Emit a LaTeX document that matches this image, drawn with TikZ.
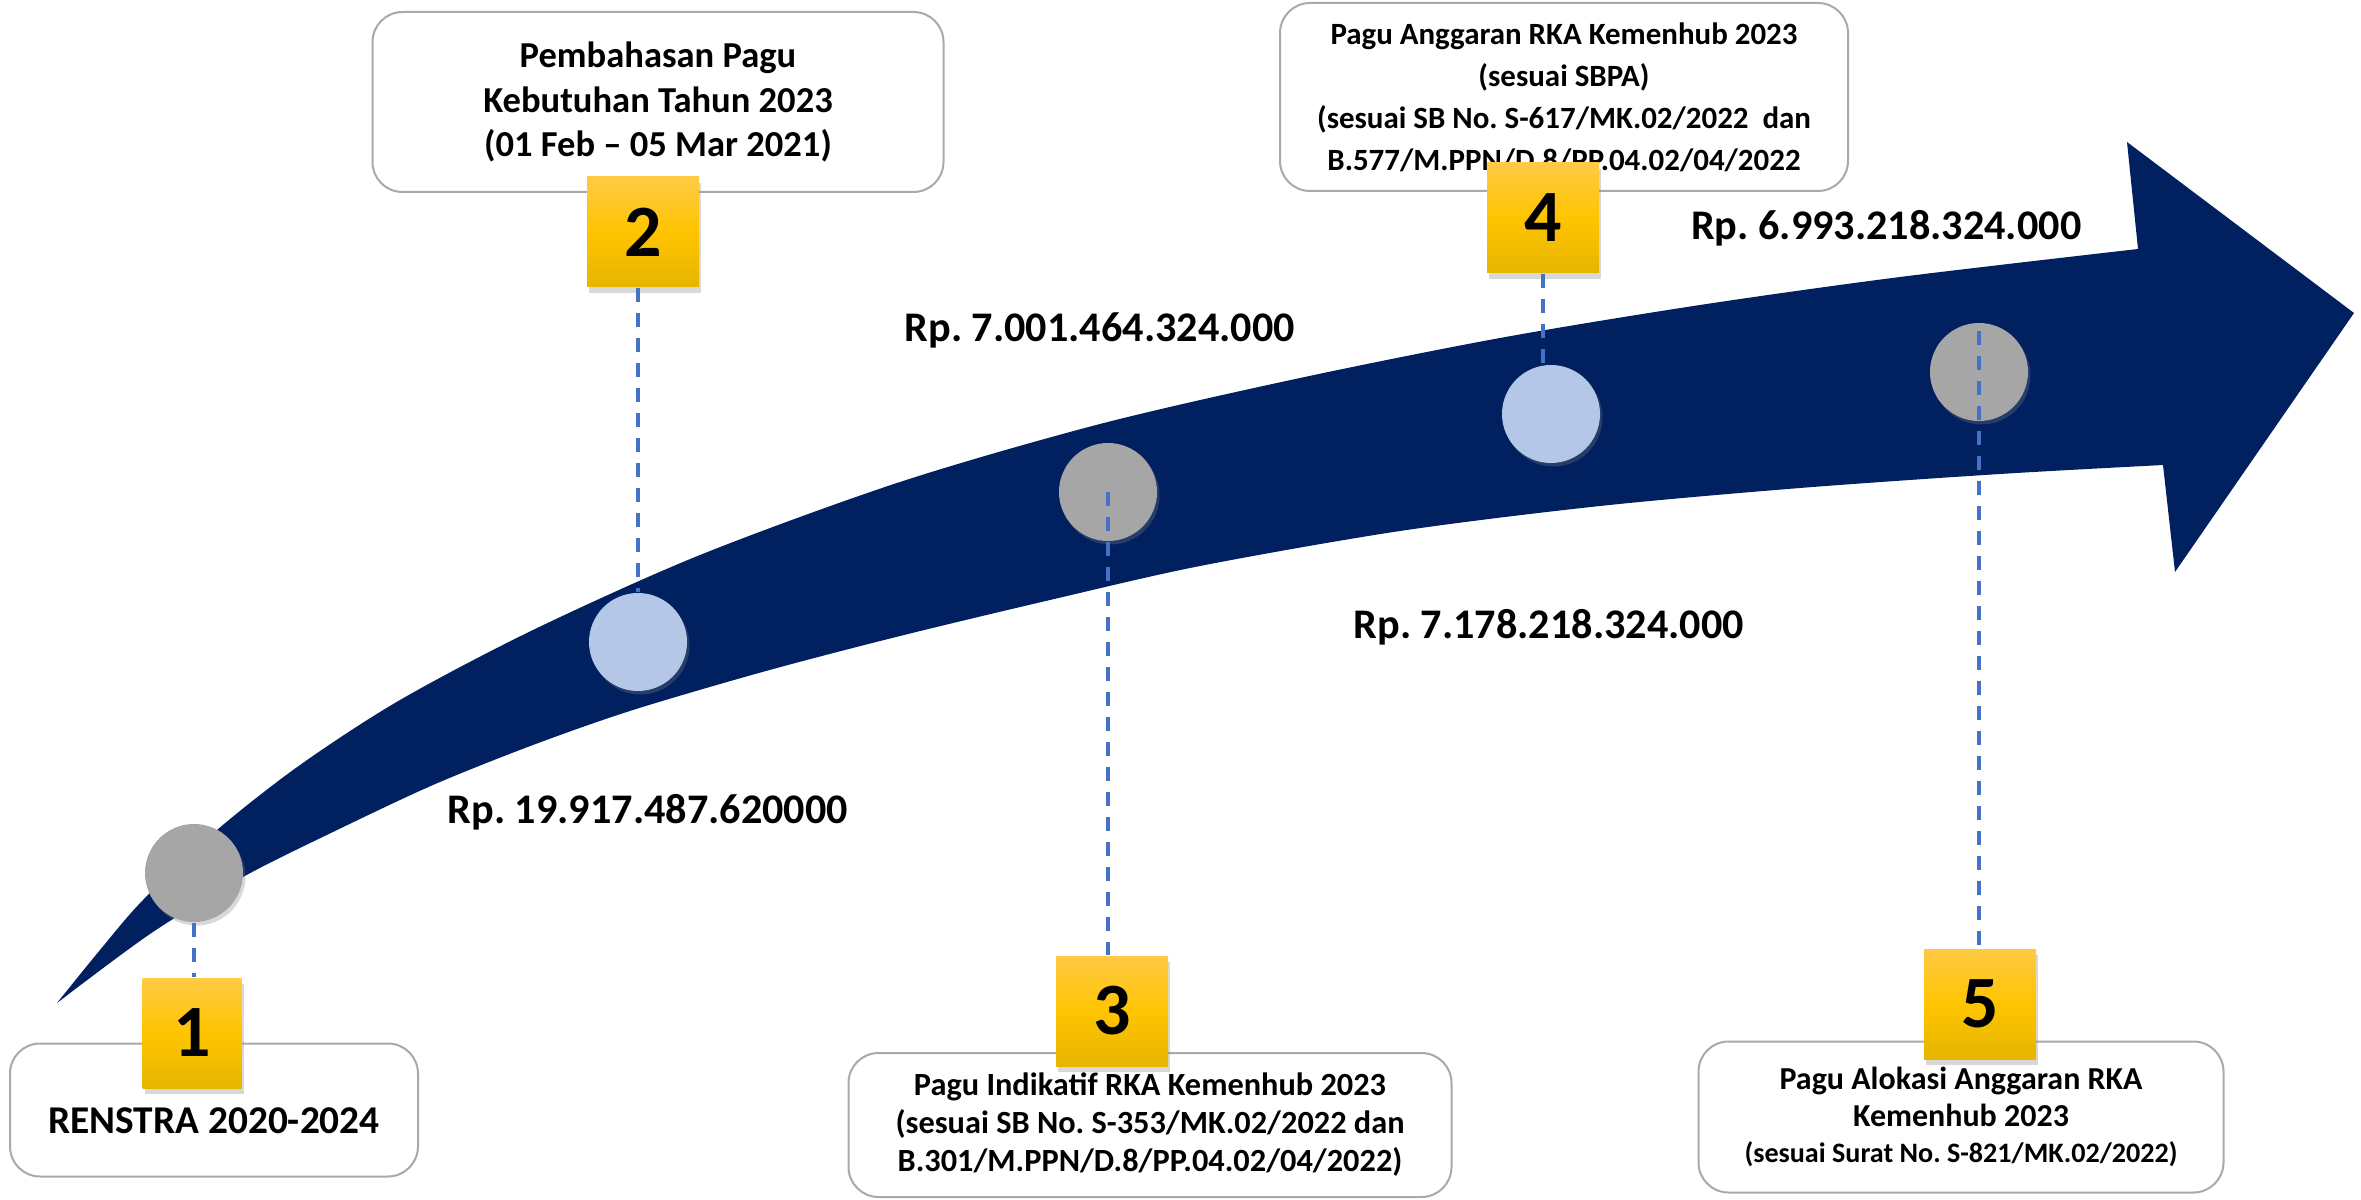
\documentclass[tikz,border=0pt]{standalone}
\usepackage{fontspec}
\setmainfont{Carlito}
\frenchspacing
\usetikzlibrary{shadows,calc}
\definecolor{navy}{HTML}{002060}
\definecolor{stone}{HTML}{A6A6A6}
\definecolor{sky}{HTML}{B4C7E7}
\definecolor{guideblue}{HTML}{4472C4}
\definecolor{rim}{HTML}{A9A9A9}
\definecolor{goldtop}{HTML}{FFCA45}
\definecolor{goldmid}{HTML}{FFC400}
\definecolor{goldbot}{HTML}{E6B500}
\tikzset{
  stage/.style={draw=rim,line width=0.2mm,rounded corners=3mm,fill=white,align=center,inner sep=0pt},
  badge/.style={top color=goldtop,bottom color=goldbot,middle color=goldmid,minimum width=11.2mm,minimum height=11mm,inner sep=0pt,font=\bfseries\fontsize{21}{24}\selectfont,drop shadow={shadow xshift=0.2mm,shadow yshift=-0.6mm,opacity=0.3}},
  milestone/.style={circle,fill=stone,minimum size=9.8mm,inner sep=0pt,drop shadow={shadow xshift=0.25mm,shadow yshift=-0.35mm,opacity=0.3}},
  guide/.style={draw=guideblue,line width=0.35mm,dash pattern=on 1.4mm off 1.1mm},
  amount/.style={anchor=base west,inner sep=0pt,font=\bfseries\fontsize{12}{14}\selectfont}
}

\begin{document}
\begin{tikzpicture}[x=0.1mm,y=-0.1mm]
  \useasboundingbox (0,0) rectangle (2361,1200);
  % the big curved arrow
  \fill[navy] plot[smooth,tension=0.5] coordinates {(57,1003) (100,950) (143,900) (217,830) (300,765) (400,700) (533,630) (700,555) (900,482) (1100,424) (1300,378) (1500,338) (1700,305) (1900,277) (2138,249)}
    -- (2127,142) -- (2354,313) -- (2175,572) -- (2163,465)
    -- plot[smooth,tension=0.5] coordinates {(2163,465) (2000,474) (1800,488) (1600,506) (1400,531) (1200,566) (1050,600) (900,636) (766,671) (633,710) (533,745) (433,785) (333,832) (243,877) (150,934) (57,1003)} -- cycle;

  \node[milestone] (c1) at (194,873) {};
  \node[milestone,fill=sky] (c2) at (638,642) {};
  \node[milestone] (c3) at (1108,492) {};
  \node[milestone,fill=sky] (c4) at (1551,414) {};
  \node[milestone] (c5) at (1979,372) {};

  \node[stage,minimum width=40.8mm,minimum height=13.3mm,text height=13.5pt,font=\bfseries\fontsize{11.2}{13}\selectfont] (renstra) at (214,1110) {RENSTRA 2020-2024};
  \node[stage,minimum width=57.1mm,minimum height=18mm,font=\bfseries\fontsize{10.4}{12.66}\selectfont] (bahas) at (658,102) {Pembahasan Pagu\\Kebutuhan Tahun 2023\\(01 Feb – 05 Mar 2021)};
  \node[stage,minimum width=60.3mm,minimum height=14.4mm,font=\bfseries\fontsize{9.2}{10.8}\selectfont] (indikatif) at (1150,1125) {Pagu Indikatif RKA Kemenhub 2023\\(sesuai SB No. S-353/MK.02/2022 dan\\B.301/M.PPN/D.8/PP.04.02/04/2022)};
  \node[stage,minimum width=56.8mm,minimum height=18.8mm,font=\bfseries\fontsize{8.8}{11.95}\selectfont] (anggaran) at (1564,97) {Pagu Anggaran RKA Kemenhub 2023\\(sesuai SBPA)\\(sesuai SB No. S-617/MK.02/2022\ \ dan\\B.577/M.PPN/D.8/PP.04.02/04/2022};
  \node[stage,minimum width=52.5mm,minimum height=15.1mm,font=\bfseries\fontsize{9.1}{10.4}\selectfont] (alokasi) at (1961,1117) {Pagu Alokasi Anggaran RKA\\Kemenhub 2023\\{\fontsize{8}{10.4}\selectfont(sesuai Surat No. S-821/MK.02/2022)}};

  \node[badge,minimum width=9.9mm] (sq1) at (192,1033) {1};
  \node[badge] (sq2) at (643,232) {2};
  \node[badge] (sq3) at (1112,1011) {3};
  \node[badge] (sq4) at (1543,218) {4};
  \node[badge] (sq5) at (1980,1004) {5};

  \draw[guide] (c1.south) -- (c1.south |- sq1.north);
  \draw[guide] (sq2.south -| c2) -- (c2.north);
  \draw[guide] (c3.center) -- (c3 |- sq3.north);
  \draw[guide] (sq4.south) -- (sq4.south |- c4.north);
  \draw[guide] ([yshift=-0.9mm]c5.north) -- (c5 |- sq5.north);

  \node[amount] (rp1) at (447,823) {Rp. 19.917.487.620000};
  \node[amount] (rp2) at (904,342) {Rp. 7.001.464.324.000};
  \node[amount] (rp3) at (1353,638) {Rp. 7.178.218.324.000};
  \node[amount,anchor=base east] (rp4) at (2082,240) {Rp. 6.993.218.324.000};
\end{tikzpicture}
\end{document}
